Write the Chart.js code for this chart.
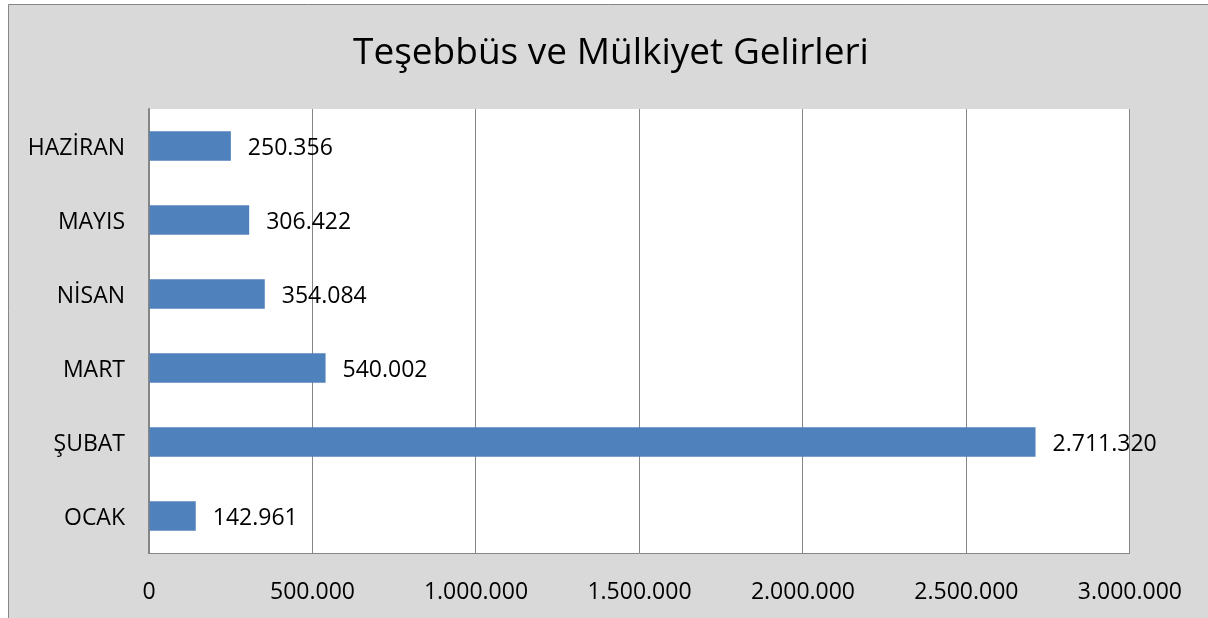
<!DOCTYPE html>
<html><head><meta charset="utf-8">
<script src="https://cdn.jsdelivr.net/npm/chart.js@4/dist/chart.umd.min.js"></script>
<style>html,body{margin:0;padding:0;background:#fff}#wrap{width:1208px;height:618px}</style>
</head><body><div id="wrap"><canvas id="c" width="1208" height="618"></canvas></div>
<script>
const titleText = 'Teşebbüs ve Mülkiyet Gelirleri';
const categories = ['OCAK', 'ŞUBAT', 'MART', 'NİSAN', 'MAYIS', 'HAZİRAN'];
const values = [142961, 2711320, 540002, 354084, 306422, 250356];
const xTickMin = 0, xTickMax = 3000000, xTickStep = 500000;

const fmt = v => Math.round(v).toString().replace(/\B(?=(\d{3})+(?!\d))/g, '.');
const FONT = "'Open Sans', sans-serif";

const bgPlugin = {
  id: 'bg',
  beforeDraw(chart) {
    const ctx = chart.ctx;
    ctx.save();
    ctx.fillStyle = '#ffffff';
    ctx.fillRect(0, 0, chart.width, chart.height);
    ctx.fillStyle = '#d9d9d9';
    ctx.fillRect(8, 4, chart.width - 8, chart.height - 4);
    ctx.strokeStyle = '#868686';
    ctx.lineWidth = 1;
    ctx.beginPath();
    ctx.moveTo(8.5, chart.height); ctx.lineTo(8.5, 4.5); ctx.lineTo(chart.width, 4.5);
    ctx.stroke();
    const a = chart.chartArea;
    ctx.fillStyle = '#ffffff';
    ctx.fillRect(a.left, a.top, a.right - a.left, a.bottom - a.top);
    // title
    ctx.fillStyle = '#000';
    ctx.font = '37px ' + FONT;
    ctx.textAlign = 'center';
    ctx.textBaseline = 'alphabetic';
    ctx.fillText(titleText, 611, 64);
    ctx.restore();
  }
};

const labelPlugin = {
  id: 'vlabels',
  afterDatasetsDraw(chart) {
    const ctx = chart.ctx;
    const meta = chart.getDatasetMeta(0);
    ctx.save();
    ctx.font = '23px ' + FONT;
    ctx.fillStyle = '#000';
    ctx.textAlign = 'left';
    ctx.textBaseline = 'middle';
    meta.data.forEach((bar, i) => {
      ctx.fillText(fmt(values[i]), bar.x + 17, bar.y + 2);
    });
    ctx.restore();
  }
};

new Chart(document.getElementById('c'), {
  type: 'bar',
  data: {
    labels: categories,
    datasets: [{
      data: values,
      backgroundColor: '#4f81bd',
      borderWidth: 0,
      categoryPercentage: 1,
      barPercentage: 0.4
    }]
  },
  options: {
    indexAxis: 'y',
    responsive: false,
    animation: false,
    devicePixelRatio: 1,
    layout: { padding: { left: 9, right: 78, top: 109, bottom: 0 } },
    plugins: {
      legend: { display: false },
      tooltip: { enabled: false },
      title: { display: false }
    },
    scales: {
      x: {
        min: xTickMin, max: xTickMax,
        ticks: {
          stepSize: xTickStep,
          color: '#000',
          font: { family: FONT, size: 23 },
          padding: 26,
          callback: v => fmt(v),
          maxRotation: 0
        },
        grid: { color: '#868686', drawTicks: false, lineWidth: 1 },
        border: { color: '#868686' },
        afterFit: s => { s.height = 65; }
      },
      y: {
        reverse: true,
        ticks: {
          color: '#000',
          font: { family: FONT, size: 23 },
          padding: 24,
          labelOffset: 2
        },
        grid: { display: false, drawTicks: false },
        border: { color: '#868686', width: 1.5 },
        afterFit: s => { s.width = 140; }
      }
    }
  },
  plugins: [bgPlugin, labelPlugin]
});
</script></body></html>
